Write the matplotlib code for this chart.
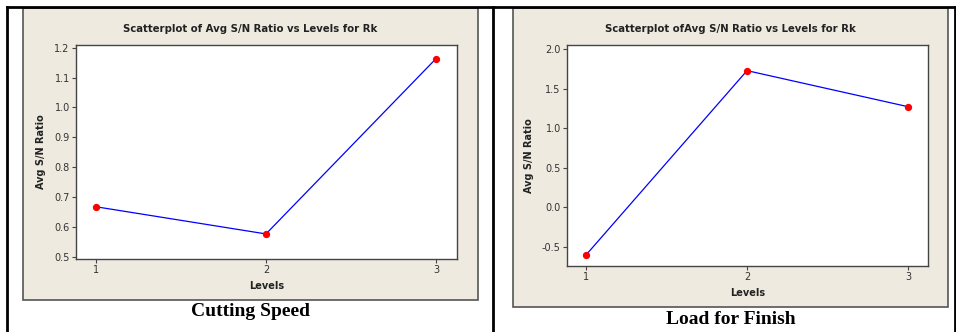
import matplotlib.pyplot as plt
from matplotlib.patches import Rectangle
from matplotlib.lines import Line2D

W, H = 956, 332

levels = [1, 2, 3]
speed_sn = [0.667, 0.576, 1.163]
load_sn = [-0.601, 1.73, 1.274]
speed_ticks = [0.5, 0.6, 0.7, 0.8, 0.9, 1.0, 1.1, 1.2]
load_ticks = [-0.5, 0.0, 0.5, 1.0, 1.5, 2.0]

BEIGE = '#eeeae0'
EDGE = '#555555'


def px_axes(fig, x0, y0, x1, y1):
    # pixel box (top-left origin) -> figure fraction
    return fig.add_axes([x0 / W, 1 - y1 / H, (x1 - x0) / W, (y1 - y0) / H])


def panel(fig, box, axbox, yvals, yticks, ylim, title, caption, cap_y):
    bx0, by0, bx1, by1 = box
    fig.patches.append(Rectangle((bx0 / W, 1 - by1 / H), (bx1 - bx0) / W, (by1 - by0) / H,
                                 transform=fig.transFigure, facecolor=BEIGE,
                                 edgecolor=EDGE, lw=1.2, zorder=-5))
    ax = px_axes(fig, *axbox)
    ax.set_facecolor('white')
    ax.plot(levels, yvals, color='blue', lw=0.9, zorder=2)
    ax.scatter(levels, yvals, color='red', s=18, zorder=3)
    ax.set_xlim(0.882, 3.124)
    ax.set_ylim(*ylim)
    ax.set_xticks(levels)
    ax.set_yticks(yticks)
    ax.set_yticklabels([f'{t:.1f}' for t in yticks])
    for s in ax.spines.values():
        s.set_color('#444444')
        s.set_linewidth(1.0)
    ax.tick_params(direction='out', length=3, width=0.8, colors='#444444',
                   labelsize=7, labelcolor='#333333', pad=1.5)
    ax.set_xlabel('Levels', fontsize=7, fontweight='bold', color='#222222', labelpad=4)
    ax.set_ylabel('Avg S/N Ratio', fontsize=7, fontweight='bold', color='#222222', labelpad=6)
    cx = (bx0 + bx1) / 2 / W
    fig.text(cx, 1 - 29 / H, title, ha='center', va='center', fontsize=7.3,
             fontweight='bold', color='#222222')
    fig.text(cx, 1 - cap_y / H, caption, ha='center', va='center', fontsize=14,
             fontweight='bold', family='Liberation Serif', color='black')
    return ax


fig = plt.figure(figsize=(W / 100, H / 100), dpi=100)
fig.patch.set_facecolor('white')

panel(fig, (23, 8, 478, 300), (76, 45, 457, 259), speed_sn, speed_ticks, (0.492, 1.209),
      'Scatterplot of Avg S/N Ratio vs Levels for Rk', 'Cutting Speed', 312)
panel(fig, (513, 8, 948, 307), (567, 45, 928, 266), load_sn, load_ticks, (-0.74, 2.054),
      'Scatterplot ofAvg S/N Ratio vs Levels for Rk', 'Load for Finish', 320)

# table borders around the two cells
for xs, ys in [((7, 955), (7, 7)), ((7, 7), (7, 332)), ((493, 493), (7, 332)), ((955, 955), (7, 332))]:
    fig.add_artist(Line2D([x / W for x in xs], [1 - y / H for y in ys],
                          transform=fig.transFigure, color='black', lw=2))

plt.savefig('out.png', dpi=100)
